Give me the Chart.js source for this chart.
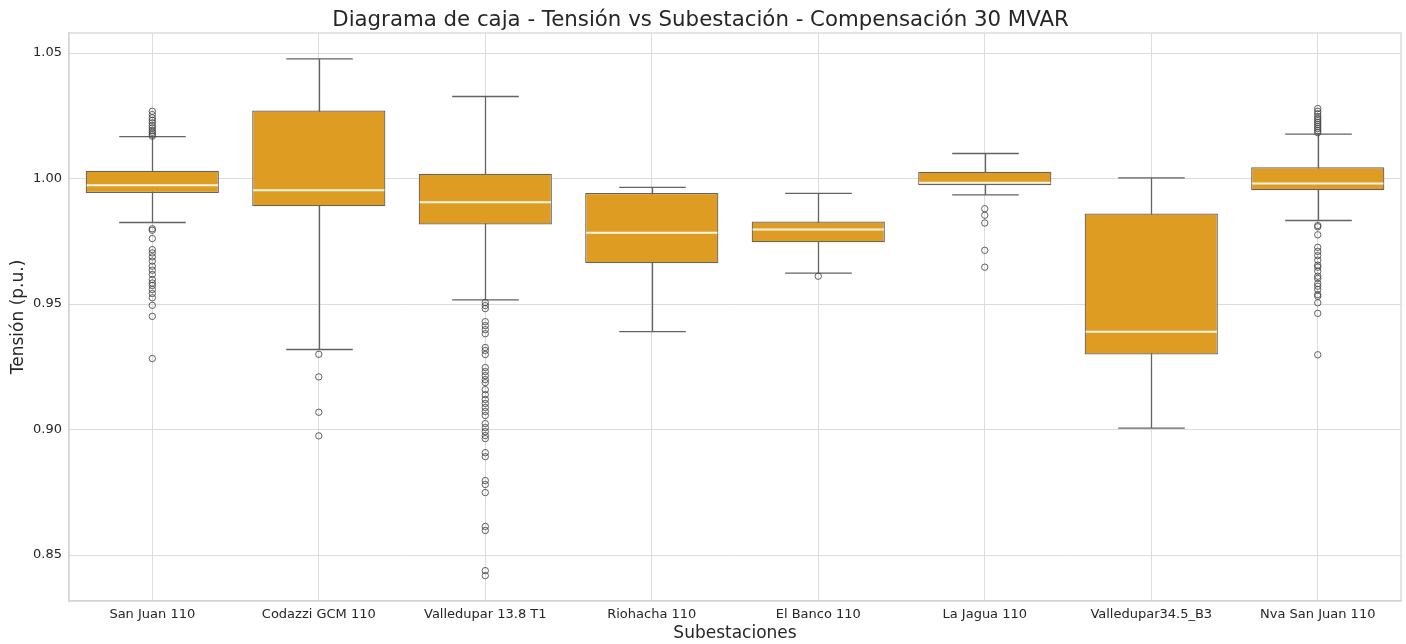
<!DOCTYPE html>
<html>
<head>
<meta charset="utf-8">
<script src="https://cdn.jsdelivr.net/npm/chart.js@4.4.1/dist/chart.umd.min.js"></script>
<style>
  html, body { margin: 0; padding: 0; background: #ffffff; }
  #wrap { width: 1406px; height: 644px; position: relative; }
</style>
</head>
<body>
<div id="wrap"><canvas id="c" width="1406" height="644"></canvas></div>
<script>
const categories = ["San Juan 110", "Codazzi GCM 110", "Valledupar 13.8 T1", "Riohacha 110", "El Banco 110", "La Jagua 110", "Valledupar34.5_B3", "Nva San Juan 110"];
const whiskerLow  = [0.9825, 0.9319, 0.9517, 0.9390, 0.9623, 0.9935, 0.9006, 0.9833];
const q1          = [0.9943, 0.9890, 0.9817, 0.9663, 0.9746, 0.9973, 0.9299, 0.9953];
const medians     = [0.9973, 0.9953, 0.9906, 0.9784, 0.9797, 0.9983, 0.9390, 0.9980];
const q3          = [1.0031, 1.0271, 1.0019, 0.9943, 0.9829, 1.0027, 0.9861, 1.0045];
const whiskerHigh = [1.0167, 1.0477, 1.0327, 0.9965, 0.9941, 1.0100, 1.0003, 1.0177];
const outliers = [
  [1.0268, 1.0255, 1.0242, 1.0232, 1.0222, 1.0211, 1.0202, 1.0192, 1.0184, 1.0176, 1.0169,
   0.9800, 0.9794, 0.9761, 0.9717, 0.9704, 0.9688, 0.9671, 0.9651, 0.9635, 0.9618, 0.9598,
   0.9584, 0.9574, 0.9558, 0.9542, 0.9525, 0.9495, 0.9451, 0.9283],
  [0.9300, 0.9210, 0.9069, 0.8975],
  [0.9506, 0.9494, 0.9482, 0.9430, 0.9414, 0.9398, 0.9382, 0.9327, 0.9315, 0.9299,
   0.9247, 0.9231, 0.9215, 0.9199, 0.9187, 0.9159, 0.9139, 0.9120, 0.9104, 0.9088,
   0.9072, 0.9056, 0.9024, 0.9008, 0.8992, 0.8976, 0.8964, 0.8908, 0.8892,
   0.8797, 0.8781, 0.8749, 0.8614, 0.8598, 0.8438, 0.8418],
  [],
  [0.9611],
  [0.9880, 0.9854, 0.9823, 0.9714, 0.9647],
  [],
  [1.0279, 1.0268, 1.0258, 1.0247, 1.0239, 1.0231, 1.0223, 1.0215, 1.0207, 1.0199, 1.0191, 1.0183,
   0.9813, 0.9808, 0.9776, 0.9726, 0.9710, 0.9693, 0.9675, 0.9655, 0.9647, 0.9631, 0.9611,
   0.9602, 0.9582, 0.9571, 0.9558, 0.9538, 0.9531, 0.9505, 0.9463, 0.9298]
];
const yTicks = [0.85, 0.90, 0.95, 1.00, 1.05];

const FONT = "'DejaVu Sans', sans-serif";
const LINE = '#636363';
const BOX_FILL = '#df9c22';

const boxData = categories.map((c, i) => [q1[i], q3[i]]);
const outlierData = [];
outliers.forEach((arr, i) => arr.forEach(v => outlierData.push({ x: categories[i], y: v })));

const boxPlugin = {
  id: 'boxParts',
  beforeDatasetsDraw(chart) {
    const { ctx, chartArea: a, scales: { x, y } } = chart;
    ctx.save();
    ctx.strokeStyle = '#d4d4d4';
    ctx.lineWidth = 1.25;
    ctx.strokeRect(a.left, a.top, a.right - a.left, a.bottom - a.top);
    const catW = (x.getPixelForValue(1) - x.getPixelForValue(0));
    const capHalf = catW * 0.2;
    ctx.strokeStyle = LINE;
    ctx.lineWidth = 1.3;
    categories.forEach((c, i) => {
      const cx = Math.round(x.getPixelForValue(i)) + 0.5;
      const yl = y.getPixelForValue(whiskerLow[i]);
      const yh = y.getPixelForValue(whiskerHigh[i]);
      ctx.beginPath();
      ctx.moveTo(cx, yl); ctx.lineTo(cx, yh);
      ctx.moveTo(cx - capHalf, yl); ctx.lineTo(cx + capHalf, yl);
      ctx.moveTo(cx - capHalf, yh); ctx.lineTo(cx + capHalf, yh);
      ctx.stroke();
    });
    ctx.restore();
  },
  afterDatasetsDraw(chart) {
    const { ctx, scales: { x, y } } = chart;
    const catW = (x.getPixelForValue(1) - x.getPixelForValue(0));
    const half = catW * 0.4;
    ctx.save();
    ctx.strokeStyle = '#fbf6ea';
    ctx.lineWidth = 2;
    categories.forEach((c, i) => {
      const cx = x.getPixelForValue(i);
      const ym = y.getPixelForValue(medians[i]);
      ctx.beginPath();
      ctx.moveTo(cx - half + 1, ym); ctx.lineTo(cx + half - 1, ym);
      ctx.stroke();
    });
    ctx.restore();
  }
};

new Chart(document.getElementById('c'), {
  type: 'bar',
  data: {
    labels: categories,
    datasets: [
      {
        type: 'line',
        label: 'outliers',
        data: outlierData,
        showLine: false,
        pointRadius: 3.2,
        pointBackgroundColor: 'rgba(0,0,0,0)',
        pointBorderColor: 'rgba(60,60,60,0.8)',
        pointBorderWidth: 1,
        order: 0
      },
      {
        label: 'box',
        data: boxData,
        backgroundColor: BOX_FILL,
        borderColor: LINE,
        borderWidth: 1.25,
        borderSkipped: false,
        barPercentage: 0.8,
        categoryPercentage: 1.0,
        grouped: false,
        order: 1
      }
    ]
  },
  options: {
    responsive: false,
    animation: false,
    events: [],
    layout: { padding: { left: 0, right: 5, top: 0, bottom: 0 } },
    plugins: {
      legend: { display: false },
      tooltip: { enabled: false },
      title: {
        display: true,
        text: 'Diagrama de caja - Tensión vs Subestación - Compensación 30 MVAR',
        color: '#262626',
        font: { family: FONT, size: 21.3, weight: 'normal' },
        padding: { top: 7.2, bottom: 0.24 }
      }
    },
    scales: {
      x: {
        type: 'category',
        offset: true,
        grid: { offset: false, color: '#dcdcdc', lineWidth: 1, drawTicks: false, tickLength: 0 },
        border: { display: true, color: '#d4d4d4', width: 1.25 },
        ticks: { color: '#262626', font: { family: FONT, size: 13 }, padding: 6.2, maxRotation: 0, autoSkip: false },
        title: {
          display: true, text: 'Subestaciones', color: '#262626',
          font: { family: FONT, size: 17 }, padding: { top: -5.7, bottom: 0.3 }
        }
      },
      y: {
        type: 'linear',
        min: 0.8317,
        max: 1.058,
        afterBuildTicks: (axis) => { axis.ticks = yTicks.map(v => ({ value: v })); },
        grid: { color: '#dcdcdc', lineWidth: 1, drawTicks: false, tickLength: 0 },
        border: { display: true, color: '#d4d4d4', width: 1.25 },
        ticks: {
          color: '#262626', font: { family: FONT, size: 13 }, padding: 7,
          callback: (v) => Number(v).toFixed(2)
        },
        title: {
          display: true, text: 'Tensión (p.u.)', color: '#262626',
          font: { family: FONT, size: 17 }, padding: { top: 8, bottom: -2.3 }
        }
      }
    }
  },
  plugins: [boxPlugin]
});
</script>
</body>
</html>
